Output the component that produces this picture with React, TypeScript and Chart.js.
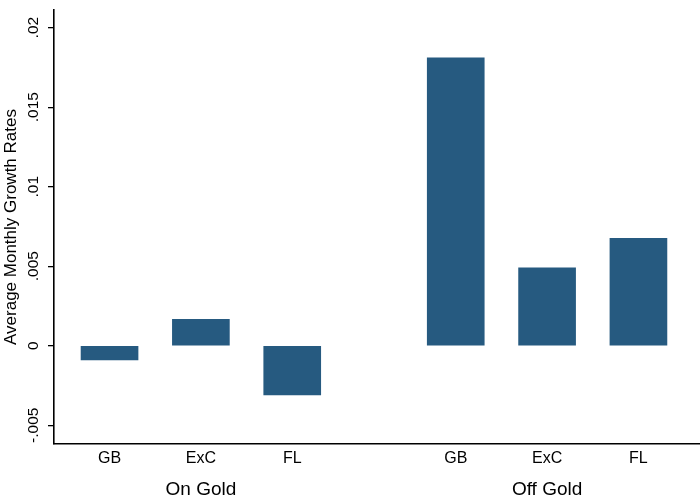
import { useEffect, useRef } from 'react';
import { Chart, registerables } from 'chart.js';

Chart.register(...registerables);

const categories = ['GB', 'ExC', 'FL'];
const groups = ['On Gold', 'Off Gold'];
const onGold = [-0.0009, 0.00166, -0.0031];
const offGold = [0.0181, 0.0049, 0.00676];
const yTickValues = [-0.005, 0, 0.005, 0.01, 0.015, 0.02];
const yTickLabels = ['-.005', '0', '.005', '.01', '.015', '.02'];
const yTitle = 'Average Monthly Growth Rates';

const groupStride = 3.79;
const barColor = '#265a80';
const fontFamily = '"Liberation Sans", Arial, Helvetica, sans-serif';

const position = (g: number, i: number) => g * groupStride + i;

const labelPlugin = {
  id: 'stataLabels',
  afterDraw(chart: Chart) {
    const { ctx, chartArea } = chart;
    const xScale = chart.scales.x;
    const yScale = chart.scales.y;
    ctx.save();
    ctx.fillStyle = '#000';

    // y tick labels, rotated like Stata
    ctx.font = `15.5px ${fontFamily}`;
    ctx.textAlign = 'center';
    ctx.textBaseline = 'alphabetic';
    yTickValues.forEach((v, i) => {
      const y = yScale.getPixelForValue(v);
      ctx.save();
      ctx.translate(38, y);
      ctx.rotate(-Math.PI / 2);
      ctx.fillText(yTickLabels[i], 0, 0);
      ctx.restore();
    });

    // y axis title
    ctx.font = `17px ${fontFamily}`;
    ctx.save();
    ctx.translate(16, (chartArea.top + chartArea.bottom) / 2);
    ctx.rotate(-Math.PI / 2);
    ctx.fillText(yTitle, 0, 0);
    ctx.restore();

    // category and group labels
    groups.forEach((group, g) => {
      ctx.font = `16px ${fontFamily}`;
      let sum = 0;
      categories.forEach((cat, i) => {
        const x = xScale.getPixelForValue(position(g, i));
        sum += x;
        ctx.fillText(cat, x, 462.5);
      });
      ctx.font = `19px ${fontFamily}`;
      ctx.fillText(group, sum / categories.length, 495);
    });

    ctx.restore();
  }
};

const App = () => {
  const canvas = useRef<HTMLCanvasElement | null>(null);
  const chartRef = useRef<Chart | null>(null);

  useEffect(() => {
    const node = canvas.current;
    if (!node) {
      return;
    }
    if (chartRef.current) {
      chartRef.current.destroy();
    }

    const points = [onGold, offGold].flatMap((values, g) =>
      values.map((v, i) => ({ x: position(g, i), y: v }))
    );

    chartRef.current = new Chart(node, {
      type: 'bar',
      data: {
        datasets: [
          {
            label: yTitle,
            data: points,
            backgroundColor: barColor,
            borderWidth: 0,
            barThickness: 57
          }
        ]
      },
      options: {
        responsive: true,
        maintainAspectRatio: false,
        animation: false,
        layout: { padding: { top: 10, right: 0, bottom: 0, left: 0 } },
        plugins: {
          legend: { display: false },
          tooltip: { enabled: false }
        },
        scales: {
          x: {
            type: 'linear',
            offset: false,
            min: -0.608,
            max: 6.464,
            grid: { display: false, offset: false },
            ticks: { display: false },
            border: { display: true, color: '#000', width: 1.6 },
            afterFit: (scale: any) => {
              scale.height = 57;
            }
          },
          y: {
            type: 'linear',
            min: -0.00618,
            max: 0.02111,
            afterBuildTicks: (scale: any) => {
              scale.ticks = yTickValues.map((value) => ({ value }));
            },
            grid: {
              drawOnChartArea: false,
              drawTicks: true,
              tickLength: 6,
              color: '#000',
              lineWidth: 1.3
            },
            ticks: { display: false },
            border: { display: true, color: '#000', width: 1.6 },
            afterFit: (scale: any) => {
              scale.width = 54;
            }
          }
        }
      },
      plugins: [labelPlugin]
    });

    return () => {
      chartRef.current?.destroy();
      chartRef.current = null;
    };
  }, []);

  return (
    <div style={{ position: 'absolute', left: 0, top: 0, width: 700, height: 501, background: '#fff' }}>
      <canvas ref={canvas} role="img" aria-label="Average monthly growth rates on and off gold" />
    </div>
  );
};

export default App;
